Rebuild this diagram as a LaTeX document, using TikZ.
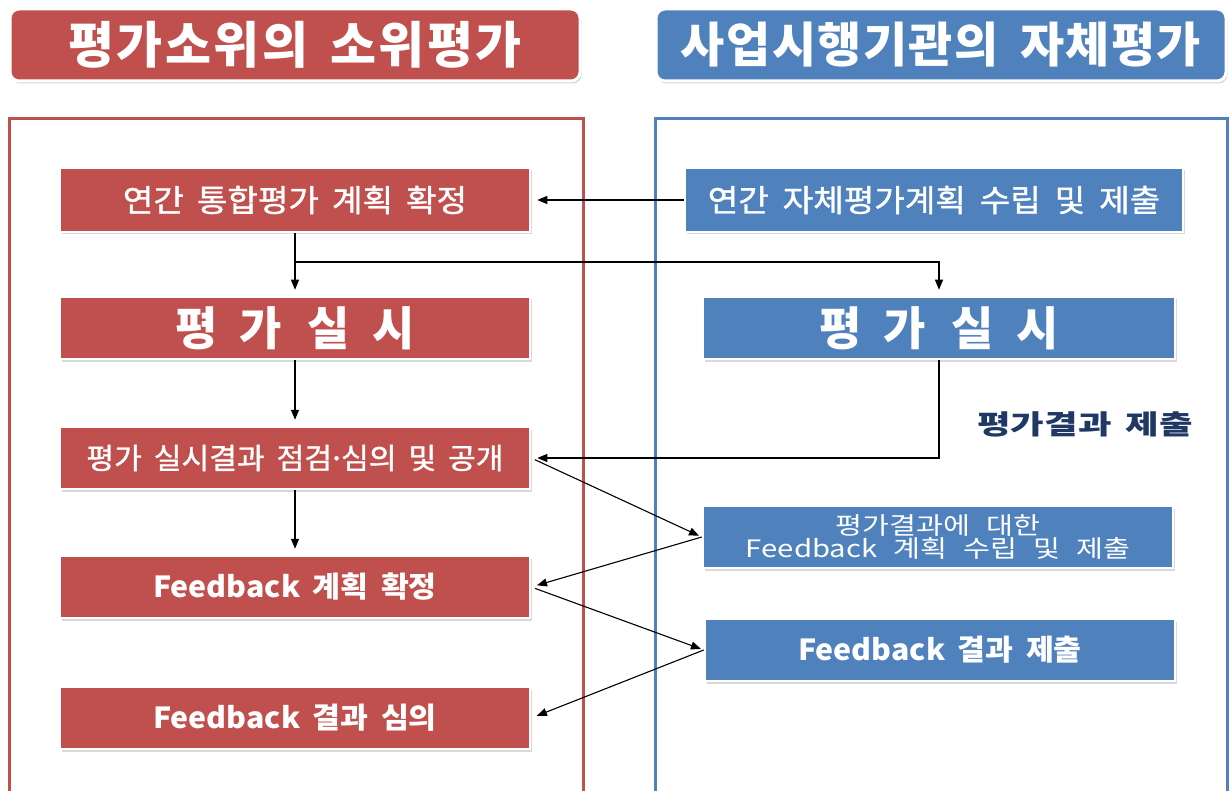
\documentclass[tikz,border=0pt]{standalone}
\usepackage{fontspec}
\setmainfont{Noto Sans CJK KR}
\usetikzlibrary{arrows.meta,shadows}
\definecolor{cred}{HTML}{C0504D}
\definecolor{cblue}{HTML}{4F81BD}
\definecolor{cnavy}{HTML}{1F3864}
% size, letterspace, word space (em)
\newcommand{\fsz}[3]{\fontsize{#1}{#1}\selectfont\addfontfeature{LetterSpace=#2}\spaceskip=#3em\relax}
% size, stretch, word space (em), regular with fake bold
\newcommand{\fszb}[3]{\fontsize{#1}{#1}\selectfont\addfontfeature{FakeStretch=#2,FakeBold=1.2}\spaceskip=#3em\relax}
% size, stretch, word space (dimension)
\newcommand{\fszs}[3]{\fontsize{#1}{#1}\selectfont\addfontfeature{FakeStretch=#2}\spaceskip=#3\relax}
\tikzset{
  hdr/.style={rounded corners=9pt, draw=white, line width=3pt, text=white,
    drop shadow={shadow xshift=1.5pt, shadow yshift=-2.5pt, opacity=0.35, fill=gray}, inner sep=0pt},
  bx/.style={draw=white, line width=2.5pt, text=white, inner sep=0pt, align=center,
    drop shadow={shadow xshift=1.5pt, shadow yshift=-2.5pt, opacity=0.3, fill=gray}},
  rbx/.style={bx, fill=cred},
  bbx/.style={bx, fill=cblue},
  fbtxt/.style={font={\bfseries\fszs{29}{1.045}{12.5pt}}},
  frm/.style={line width=3pt},
  arr/.style={line width=1.1pt, -{Triangle[length=10pt,width=8pt]}}
}
\newcommand{\pgsil}{평\hspace{22pt}가\hspace{26pt}실\hspace{22pt}시}
\begin{document}
\begin{tikzpicture}[x=1pt,y=-1pt]
\useasboundingbox (0,0) rectangle (1230,791);
\clip (0,0) rectangle (1230,791);
% frames
\draw[frm, draw=cred] (9,119) rectangle (583,800);
\draw[frm, draw=cblue] (655,119) rectangle (1227,800);
% headers
\node[hdr, fill=cred, minimum width=570pt, minimum height=72pt, font={\bfseries\fsz{50}{5}{0.224}}] (HL) at (295,45) {평가소위의\ \ 소위평가};
\node[hdr, fill=cblue, minimum width=570pt, minimum height=72pt, font={\bfseries\fsz{48}{3}{0.224}}] (HR) at (941,45) {사업시행기관의\ \ 자체평가};
% left boxes
\node[rbx, font={\fszb{31}{1.07}{0.42}}, minimum width=470pt, minimum height=64pt] (L1) at (295,200) {연간 통합평가 계획 확정};
\node[rbx, font={\bfseries\fsz{46}{0}{0.224}}, minimum width=470pt, minimum height=62pt] (L2) at (295,328) {\pgsil};
\node[rbx, font={\fszb{29}{1.04}{0.41}}, minimum width=470pt, minimum height=62pt] (L3) at (295,458) {평가 실시결과 점검\makebox[9pt]{·}심의 및 공개};
\node[rbx, fbtxt, minimum width=470pt, minimum height=62pt] (L4) at (295,587) {Feedback 계획 확정};
\node[rbx, fbtxt, minimum width=470pt, minimum height=62pt] (L5) at (295,718) {Feedback 결과 심의};
% right boxes
\node[bbx, font={\fszb{31}{1.07}{0.45}}, minimum width=498pt, minimum height=64pt] (R1) at (934,200) {연간 자체평가계획 수립 및 제출};
\node[bbx, font={\bfseries\fsz{46}{0}{0.224}}, minimum width=472pt, minimum height=62pt] (R2) at (939,328) {\pgsil};
\node[bbx, font={\fszs{24}{1.22}{16pt}}, minimum width=470pt, minimum height=62pt] (R3) at (938,537) {평가결과에 대한\\[-1pt]Feedback 계획 수립 및 제출};
\node[bbx, fbtxt, minimum width=470pt, minimum height=62pt] (R4) at (940,650) {Feedback 결과 제출};
% label
\node[text=cnavy, font={\bfseries\fszs{27}{1.35}{14pt}}] (LB) at (1085,424) {평가결과 제출};
% connectors
\draw[arr, shorten >=6pt] (R1.west) -- (L1.east);
\draw[arr, shorten >=6pt] (L1.south) -- (L2.north);
\coordinate (BR) at (295,262);
\draw[arr, shorten >=6pt] (BR) -| (R2.north);
\draw[arr, shorten >=6pt] (L2.south) -- (L3.north);
\draw[arr, shorten >=6pt] (R2.south) |- (L3.east);
\draw[arr, shorten >=6pt] (L3.south) -- (L4.north);
\draw[arr, shorten <=4pt, shorten >=3pt] (L3.east) -- (R3.west);
\draw[arr, shorten >=6pt] (R3.west) -- (L4.east);
\draw[arr, shorten <=4pt, shorten >=3pt] (L4.east) -- (R4.west);
\draw[arr, shorten >=6pt] (R4.west) -- (L5.east);
\end{tikzpicture}
\end{document}
